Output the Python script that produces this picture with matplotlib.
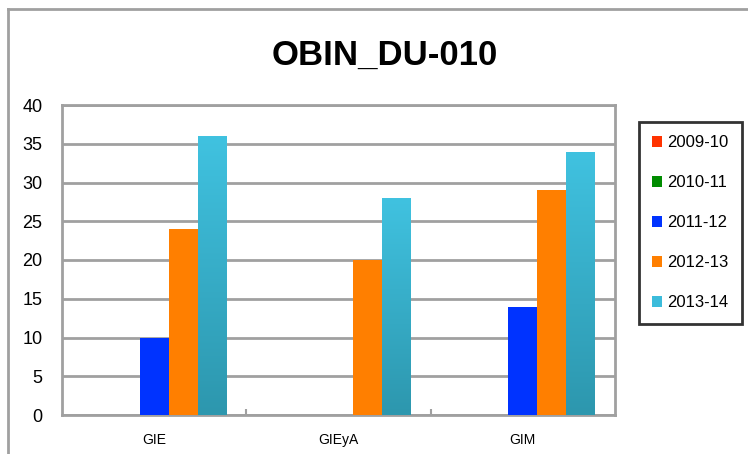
import numpy as np
import matplotlib.pyplot as plt
from matplotlib.colors import LinearSegmentedColormap
from matplotlib.lines import Line2D

categories = ['GIE', 'GIEyA', 'GIM']
series_names = ['2009-10', '2010-11', '2011-12', '2012-13', '2013-14']
values = {
    '2009-10': [0, 0, 0],
    '2010-11': [0, 0, 0],
    '2011-12': [10, 0, 14],
    '2012-13': [24, 20, 29],
    '2013-14': [36, 28, 34],
}
colors = ['#ff3300', '#008c00', '#0033ff', '#ff7f00', '#3cbcdb']
yticks = [0, 5, 10, 15, 20, 25, 30, 35, 40]

font = ['Liberation Sans Narrow', 'Liberation Sans', 'DejaVu Sans']
plt.rcParams['font.family'] = font

fig = plt.figure(figsize=(7.48, 4.54), dpi=100)
W, H = 748, 454
ax = fig.add_axes([62 / W, 1 - 415 / H, (615 - 62) / W, (415 - 105) / H])

# outer frame (left and top edges visible)
fig.add_artist(Line2D([7.5 / W, 7.5 / W], [0, 1 - 9 / H], color='#a0a0a0', lw=2))
fig.add_artist(Line2D([7.5 / W, 1], [1 - 9 / H, 1 - 9 / H], color='#a0a0a0', lw=2))

x = np.arange(len(categories))
n = len(series_names)
bw = 0.157
grad = LinearSegmentedColormap.from_list('g', ['#2d97ae', '#40c2e0'])

handles = []
for i, name in enumerate(series_names):
    offs = (i - (n - 1) / 2) * bw
    bars = ax.bar(x + offs, values[name], bw, color=colors[i], zorder=3,
                  label=name, linewidth=0)
    handles.append(bars)
    if name == '2013-14':
        for b in bars:
            bx, by = b.get_x(), b.get_y()
            bh = b.get_height()
            img = ax.imshow(np.linspace(0, 1, 100).reshape(-1, 1), cmap=grad,
                            origin='lower', aspect='auto', zorder=3.5,
                            extent=[bx, bx + b.get_width(), by, by + bh])
            img.set_clip_path(b)

ax.set_xlim(-0.5, 2.5)
ax.set_ylim(0, 40)
ax.set_yticks(yticks)
ax.tick_params(axis='y', length=0, pad=14, labelsize=13)
ax.set_xticks(x)
ax.set_xticklabels(categories)
ax.tick_params(axis='x', length=0, pad=13, labelsize=10)
ax.set_xticks([0.5, 1.5], minor=True)
ax.tick_params(axis='x', which='minor', direction='in', length=4, color='#a0a0a0', width=1.5)
ax.grid(axis='y', color='#a0a0a0', lw=2, zorder=0)
for s in ax.spines.values():
    s.set_color('#a0a0a0')
    s.set_linewidth(2)

fig.text(385 / W, 1 - 55 / H, 'OBIN_DU-010', ha='center', va='center',
         fontsize=25, fontweight='bold')

leg = fig.legend(handles=handles, labels=series_names, loc='upper left',
                 bbox_to_anchor=(639 / W, 1 - 122 / H), fontsize=12,
                 frameon=True, fancybox=False, handlelength=0.6,
                 handleheight=0.6, handletextpad=0.3, labelspacing=1.5,
                 borderpad=0.8, borderaxespad=0)
leg.get_frame().set_edgecolor('black')
leg.get_frame().set_linewidth(2)

fig.savefig('out.png', dpi=100)
